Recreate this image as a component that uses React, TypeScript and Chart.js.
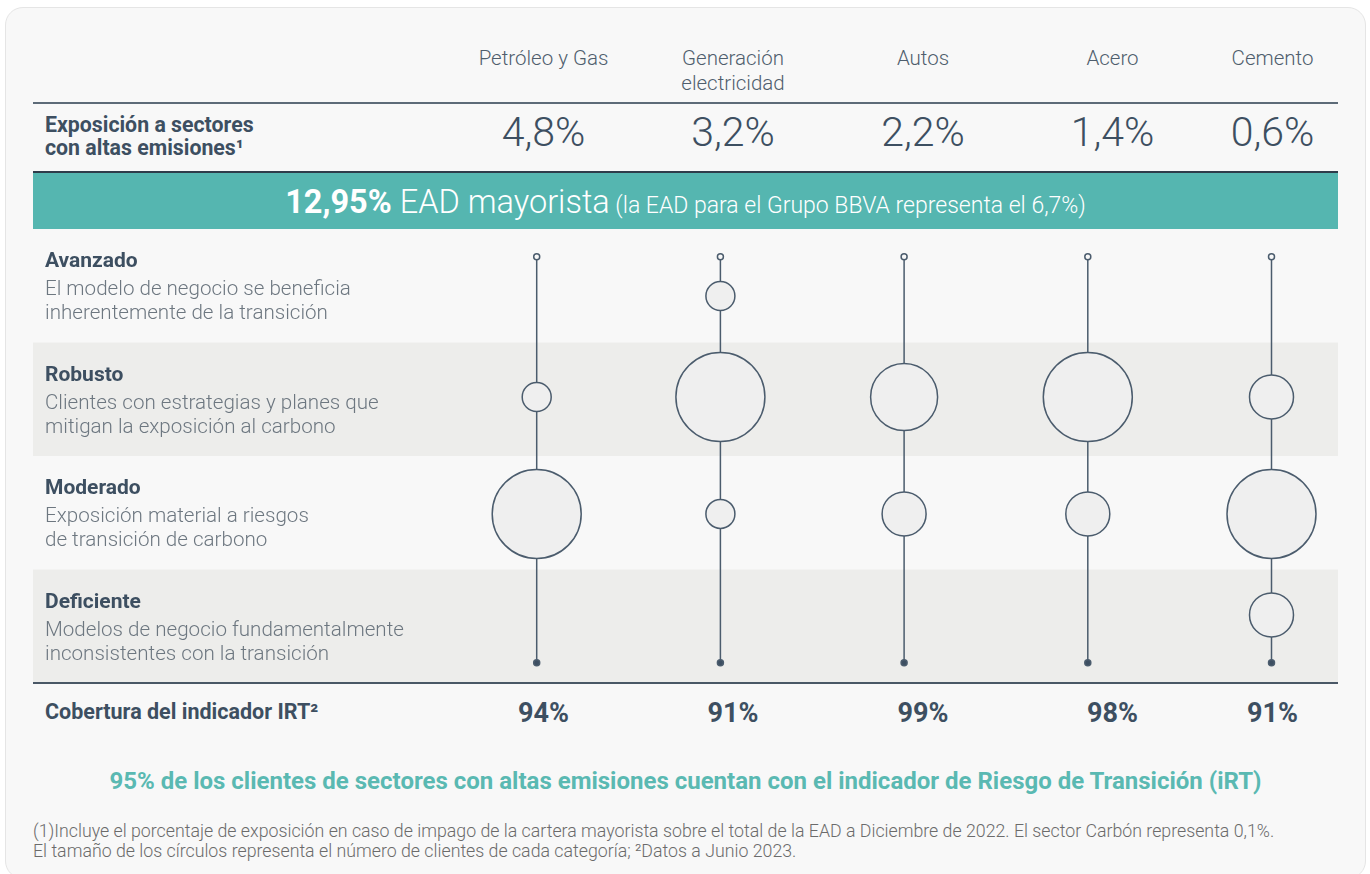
import React, { useEffect, useRef } from 'react';
import { Chart, registerables } from 'chart.js';

Chart.register(...registerables);

// ---------- data ----------
const SECTORES = ['Petróleo y Gas', 'Generación\nelectricidad', 'Autos', 'Acero', 'Cemento'];
const EXPOSICION = ['4,8%', '3,2%', '2,2%', '1,4%', '0,6%'];
const COBERTURA = ['94%', '91%', '99%', '98%', '91%'];
const NIVELES = ['Avanzado', 'Robusto', 'Moderado', 'Deficiente'];
const NIVEL_DESC = [
  ['El modelo de negocio se beneficia', 'inherentemente de la transición'],
  ['Clientes con estrategias y planes que', 'mitigan la exposición al carbono'],
  ['Exposición material a riesgos', 'de transición de carbono'],
  ['Modelos de negocio fundamentalmente', 'inconsistentes con la transición'],
];
// bubble size (number of clients, as bubble radius) per level, per sector
const TAM_AVANZADO = [0, 14.5, 0, 0, 0];
const TAM_ROBUSTO = [14.5, 44.5, 33.5, 44.5, 22];
const TAM_MODERADO = [44.5, 14.5, 22, 22, 44.5];
const TAM_DEFICIENTE = [0, 0, 0, 0, 22];
// value of each level on the y axis (bands: Deficiente 0-1 ... Avanzado 3-4)
const NIVEL_Y = [3.41, 2.52, 1.49, 0.6];
const TALLO = [3.756, 0.179];

// ---------- layout ----------
const COL_LEFT = [449, 638, 828, 1018, 1207];
const COL_W = [189, 190, 190, 189, 131];
const FONT = 'Roboto, "Noto Sans", sans-serif';
const SLATE = '#3d4f61';
const STROKE = '#4b5c6d';
const TEAL = '#55b6b0';

const bandPlugin = {
  id: 'bands',
  beforeDatasetsDraw(chart: any) {
    const { ctx, chartArea, scales } = chart;
    const y = scales.y;
    ctx.save();
    ctx.fillStyle = '#ededeb';
    for (const k of [0, 2]) {
      const top = y.getPixelForValue(k + 1);
      const bot = y.getPixelForValue(k);
      ctx.fillRect(chartArea.left, top, chartArea.right - chartArea.left, bot - top);
    }
    ctx.restore();
  },
};

function BubbleChart() {
  const ref = useRef<HTMLCanvasElement | null>(null);
  useEffect(() => {
    if (!ref.current) return;
    const tam = [TAM_AVANZADO, TAM_ROBUSTO, TAM_MODERADO, TAM_DEFICIENTE];
    const bubbles: any[] = [];
    SECTORES.forEach((_, i) => {
      tam.forEach((arr, j) => {
        if (arr[i] > 0) bubbles.push({ x: i, y: NIVEL_Y[j], r: arr[i] });
      });
    });
    const stems = SECTORES.map((_, i) => ({
      type: 'line' as const,
      data: [
        { x: i, y: TALLO[0] },
        { x: i, y: TALLO[1] },
      ],
      borderColor: STROKE,
      borderWidth: 1.5,
      pointRadius: [3, 3],
      pointBackgroundColor: ['#f8f8f8', '#3d4f62'],
      pointBorderColor: STROKE,
      pointBorderWidth: 1.5,
      order: 2,
    }));
    const chart = new Chart(ref.current, {
      type: 'bubble',
      data: {
        datasets: [
          {
            type: 'bubble',
            data: bubbles,
            backgroundColor: '#efefef',
            borderColor: STROKE,
            borderWidth: 1.5,
            order: 1,
          } as any,
          ...stems,
        ],
      },
      options: {
        animation: false,
        responsive: false,
        devicePixelRatio: 1,
        events: [],
        layout: { autoPadding: false, padding: 0 },
        plugins: { legend: { display: false }, tooltip: { enabled: false } },
        scales: {
          x: { type: 'linear', min: -2.742, max: 4.362, display: false },
          y: { type: 'linear', min: 0, max: 4, display: false },
        },
      } as any,
      plugins: [bandPlugin],
    });
    return () => chart.destroy();
  }, []);
  return (
    <canvas
      ref={ref}
      width={1305}
      height={454}
      style={{ position: 'absolute', left: 33, top: 229, width: 1305, height: 454 }}
    />
  );
}

export default function App() {
  const abs = (s: React.CSSProperties): React.CSSProperties => ({ position: 'absolute', ...s });
  return (
    <div
      style={{
        position: 'fixed',
        left: 0,
        top: 0,
        width: 1370,
        height: 874,
        background: '#ffffff',
        overflow: 'hidden',
        fontFamily: FONT,
      }}
    >
      <div
        style={abs({
          left: 5,
          top: 7,
          width: 1359,
          height: 870,
          background: '#f8f8f8',
          border: '1px solid #e5e5e5',
          borderRadius: 18,
        })}
      />
      {/* headers */}
      {SECTORES.map((s, i) => (
        <div
          key={'h' + i}
          style={abs({
            left: COL_LEFT[i],
            width: COL_W[i],
            top: 46,
            textAlign: 'center',
            fontSize: 20.5,
            fontWeight: 300,
            lineHeight: '25px',
            color: '#4f5e6d',
            whiteSpace: 'pre',
          })}
        >
          {s}
        </div>
      ))}
      <div style={abs({ left: 33, top: 102, width: 1305, height: 1.5, background: '#5d6b78' })} />
      {/* exposure row */}
      <div
        style={abs({
          left: 45,
          top: 113,
          fontSize: 21.3,
          fontWeight: 700,
          lineHeight: '23px',
          color: SLATE,
        })}
      >
        Exposición a sectores
        <br />
        con altas emisiones¹
      </div>
      {EXPOSICION.map((v, i) => (
        <div
          key={'e' + i}
          style={abs({
            left: COL_LEFT[i],
            width: COL_W[i],
            top: 108,
            textAlign: 'center',
            fontSize: 41,
            fontWeight: 300,
            lineHeight: '48px',
            color: SLATE,
          })}
        >
          {v}
        </div>
      ))}
      <div style={abs({ left: 33, top: 171, width: 1305, height: 2, background: '#2e3c4a' })} />
      {/* teal band */}
      <div style={abs({ left: 33, top: 173, width: 1305, height: 56, background: TEAL })} />
      <div
        style={abs({
          left: 33,
          top: 174,
          width: 1305,
          height: 56,
          lineHeight: '56px',
          textAlign: 'center',
          color: '#ffffff',
          whiteSpace: 'nowrap',
        })}
      >
        <span style={{ fontSize: 32.5, fontWeight: 700 }}>12,95%</span>
        <span style={{ fontSize: 32.5, fontWeight: 300 }}> EAD mayorista</span>
        <span style={{ fontSize: 23, fontWeight: 300 }}> (la EAD para el Grupo BBVA representa el 6,7%)</span>
      </div>
      {/* bubble chart */}
      <BubbleChart />
      {/* level labels */}
      {NIVELES.map((n, k) => {
        const bandTop = [229, 343, 456, 570][k];
        return (
          <React.Fragment key={'n' + k}>
            <div
              style={abs({
                left: 45,
                top: bandTop + 19,
                fontSize: 21,
                fontWeight: 700,
                lineHeight: '24px',
                color: SLATE,
              })}
            >
              {n}
            </div>
            <div
              style={abs({
                left: 45,
                top: bandTop + 47,
                fontSize: 20.6,
                fontWeight: 300,
                lineHeight: '24px',
                color: '#6d7780',
                whiteSpace: 'pre',
              })}
            >
              {NIVEL_DESC[k].join('\n')}
            </div>
          </React.Fragment>
        );
      })}
      <div style={abs({ left: 33, top: 682, width: 1305, height: 2, background: '#4a5866' })} />
      {/* coverage row */}
      <div
        style={abs({
          left: 45,
          top: 700,
          fontSize: 21.5,
          fontWeight: 700,
          lineHeight: '24px',
          color: SLATE,
        })}
      >
        Cobertura del indicador IRT²
      </div>
      {COBERTURA.map((v, i) => (
        <div
          key={'c' + i}
          style={abs({
            left: COL_LEFT[i],
            width: COL_W[i],
            top: 698,
            textAlign: 'center',
            fontSize: 27,
            fontWeight: 700,
            lineHeight: '30px',
            color: SLATE,
          })}
        >
          {v}
        </div>
      ))}
      <div
        style={abs({
          left: 5,
          width: 1361,
          top: 767,
          textAlign: 'center',
          fontSize: 24,
          fontWeight: 700,
          lineHeight: '28px',
          color: '#5ab9b2',
          whiteSpace: 'nowrap',
        })}
      >
        95% de los clientes de sectores con altas emisiones cuentan con el indicador de Riesgo de Transición (iRT)
      </div>
      <div
        style={abs({
          left: 33,
          top: 821,
          fontSize: 17.75,
          fontWeight: 300,
          lineHeight: '20px',
          color: '#6b6b6b',
          whiteSpace: 'pre',
        })}
      >
        {'(1)Incluye el porcentaje de exposición en caso de impago de la cartera mayorista sobre el total de la EAD a Diciembre de 2022. El sector Carbón representa 0,1%.\nEl tamaño de los círculos representa el número de clientes de cada categoría; ²Datos a Junio 2023.'}
      </div>
    </div>
  );
}
